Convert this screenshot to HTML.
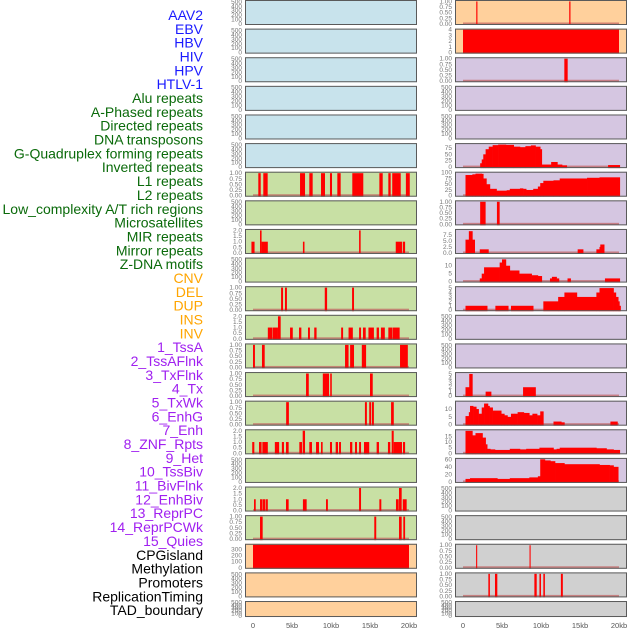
<!DOCTYPE html>
<html><head><meta charset="utf-8"><style>
html,body{margin:0;padding:0;background:#fff;}
svg{display:block;font-family:"Liberation Sans",sans-serif;}
</style></head><body>
<svg id="chart" width="630" height="630" viewBox="0 0 630 630" xmlns="http://www.w3.org/2000/svg"></svg>
<script>
// ---------- data ----------
const trackLabels = ["AAV2","EBV","HBV","HIV","HPV","HTLV-1","Alu repeats","A-Phased repeats","Directed repeats","DNA transposons","G-Quadruplex forming repeats","Inverted repeats","L1 repeats","L2 repeats","Low_complexity A/T rich regions","Microsatellites","MIR repeats","Mirror repeats","Z-DNA motifs","CNV","DEL","DUP","INS","INV","1_TssA","2_TssAFlnk","3_TxFlnk","4_Tx","5_TxWk","6_EnhG","7_Enh","8_ZNF_Rpts","9_Het","10_TssBiv","11_BivFlnk","12_EnhBiv","13_ReprPC","14_ReprPCWk","15_Quies","CPGisland","Methylation","Promoters","ReplicationTiming","TAD_boundary"];
const labelGroups = [6,13,5,15,5];
const xTickValues = [0,5,10,15,20];
const xTickLabels = ["0","5kb","10kb","15kb","20kb"];

const L6 = [[0.68,0.99,1],[1.32,1.88,1],[6.03,6.67,1],[7.22,7.65,1],[8.72,9.23,1],[9.87,10.13,1],[10.81,11.24,1],[12.73,14.14,1],[16.2,16.63,1],[17.35,17.65,1],[17.85,18.94,1],[19.6,20.1,1]];
const L8 = [[-0.2,0.2,1],[0.9,1.1,2],[1.1,1.9,1],[6.4,6.6,1],[13.6,13.8,2],[18.3,19.1,1],[19.2,19.5,1]];
const L10 = [[3.6,3.85,1],[4.1,4.35,1],[9.2,9.5,1],[12.7,12.95,1]];
const L11 = [[1.9,2.45,1],[2.5,3.2,1],[3.2,3.55,2],[4.75,5.1,1],[5.9,6.2,1],[7.05,7.3,1],[7.85,8.15,1],[11.3,11.55,1],[12.25,12.5,1],[12.5,12.8,1],[13.6,13.85,1],[14.1,14.45,1],[14.8,15.5,1],[15.85,16.15,1],[16.4,16.9,1],[17.35,17.85,1],[17.9,18.8,1]];
const L12 = [[0,0.25,1],[1.15,1.5,1],[11.8,12.25,1],[12.45,12.95,1],[13.95,14.5,1],[18.85,19.85,1]];
const L13 = [[6.8,7.15,1],[8.95,9.75,1],[9.9,10.1,1],[15.0,15.35,1]];
const L14 = [[4.25,4.6,1],[14.35,14.6,1],[14.9,15.15,1],[15.25,15.5,1],[17.7,18.05,1]];
const L15 = [[-0.1,0.17,1],[0.77,1.1,1],[1.2,1.9,1],[2.8,3.35,1],[3.7,3.97,1],[4.23,4.57,1],[5.94,6.28,1],[6.37,6.67,2],[7.22,7.56,1],[8.08,8.46,1],[8.72,8.93,1],[9.87,10.13,1],[10.6,10.9,1],[11.03,11.28,1],[12.44,12.73,1],[13.08,13.33,1],[13.6,13.85,1],[14.23,14.9,1],[15.85,16.15,1],[17.3,17.6,1],[17.78,18.04,2],[18.04,19.1,1],[19.23,19.5,1]];
const L17 = [[0.13,0.35,1],[0.9,1.2,1],[1.25,1.6,1],[1.67,1.9,1],[4.23,4.57,1],[6.4,6.88,1],[9.36,9.6,1],[13.6,13.85,2],[16.2,16.45,1],[18.33,18.68,1],[18.72,19.06,2],[19.2,19.7,1]];
const L18 = [[0.9,1.24,1],[15.55,15.8,1],[18.72,19.06,1],[19.27,19.5,1]];
const L19 = [[0,20,380]];

const R0 = [[1.7,1.85,1],[13.62,13.78,1]];
const R1 = [[0,20,4]];
const R2 = [[12.99,13.42,1]];
const R7 = [[2.2,2.9,1],[4.35,4.7,1]];
const R19 = [[1.68,1.82,1],[8.53,8.67,1]];
const R20 = [[3.25,3.45,1],[4.1,4.4,1],[9.15,9.45,1],[9.8,10.0,1],[10.3,10.5,1],[12.55,12.8,1]];
const R5 = [[2.2,15],[2.4,30],[2.6,50],[2.9,70],[3.3,80],[3.8,86],[4.5,88],[5.5,87],[6.5,80],[7.3,78],[8,82],[8.7,85],[9.3,80],[9.9,70],[10.1,10],[11.3,20],[12.1,10],[12.7,7],[13.3,0],[18.6,8],[20.1,0]];
const R6 = [[0.32,90],[1.2,93],[1.6,96],[2.4,95],[2.6,75],[3.0,50],[3.45,30],[4.3,22],[5.6,24],[6.0,30],[7.3,32],[7.7,30],[8.1,25],[9.0,30],[9.6,40],[9.9,55],[10.3,65],[11.6,67],[12.4,75],[15.9,78],[17.5,80],[20.1,0]];
const R8 = [[0.32,5.5],[0.75,9],[1.2,5.5],[1.5,0],[2.15,1.5],[3.26,0],[14.7,1.5],[15.4,0],[17.1,1.5],[17.5,2.5],[17.6,3.5],[18.1,0]];
const R9 = [[2.15,2],[2.4,5],[2.7,9],[4.7,12],[5.0,14],[5.5,10],[6.0,7],[7.2,5],[8.8,4],[9.6,3.5],[10.1,0],[11.15,2],[11.4,3],[12.0,2],[12.3,0],[13.4,2],[13.8,0],[18.2,2],[20.1,0]];
const R10 = [[0.32,1],[3.1,0],[4.15,1],[5.8,0],[6.15,1],[9.0,0],[10.3,2],[12.2,3],[13.0,4],[14.6,3],[17.1,4],[17.5,5],[19.3,4],[19.6,3],[19.9,2],[20.05,1],[20.2,0]];
const R13 = [[0.32,2],[0.8,5],[1.2,0],[2.9,1],[3.6,0],[7.7,2],[9.3,0]];
const R14 = [[0.32,5.5],[0.75,8],[0.9,12],[1.3,11.5],[1.7,10],[2.0,7],[2.4,11],[2.7,13.5],[3.2,12],[3.4,11],[3.8,9],[4.9,7],[5.3,6],[5.7,5],[6.15,7],[6.6,7],[7.0,8],[7.8,7.5],[8.5,6],[8.9,7],[9.5,6],[9.9,8.5],[10.3,0],[11.6,2],[12.6,1.5],[13.0,0],[18.9,2],[19.8,0]];
const R15 = [[0.32,20],[1.2,16],[1.6,18],[2.5,14],[2.9,8],[3.1,4],[3.5,3.5],[4.1,3],[6.0,4],[7.3,3.5],[8.1,4],[9.8,5],[11.6,3.5],[12.0,4],[12.4,5],[17.1,4.5],[18.4,3.5],[19.3,3],[20.1,0]];
const R16 = [[0.32,8],[0.9,10],[4.4,8],[6.0,10],[8.5,12],[9.6,15],[9.9,60],[10.5,57],[11.2,55],[11.8,50],[13.0,47],[17.5,45],[18.8,44],[19.3,40],[19.9,0]];

const svg = document.getElementById('chart');
const NS = 'http://www.w3.org/2000/svg';
function mk(tag, attrs, parent){const e=document.createElementNS(NS,tag);for(const k in attrs)e.setAttribute(k,attrs[k]);(parent||svg).appendChild(e);return e;}
const BLUE='#c8e3ec', GREEN='#c8e0a4', ORANGE='#ffd09c', PURPLE='#d5c6e1', GRAY='#d0d0d0';
const ticks500=[0,100,200,300,400,500], tBin=[0,0.25,0.5,0.75,1], t2=[0,0.5,1,1.5,2];
function E(bg){return {bg:bg,type:'empty',ymax:520,ticks:ticks500,fmt:v=>String(v)};}
function B(bg,d){return {bg:bg,type:'seg',data:d,ymax:1.02,ticks:tBin,fmt:v=>v.toFixed(2),base:true};}
function B2(bg,d){return {bg:bg,type:'seg',data:d,ymax:2.04,ticks:t2,fmt:v=>v.toFixed(1),base:true};}
function S(bg,d,ymax,ticks,fmt){return {bg:bg,type:'step',data:d,ymax:ymax,ticks:ticks,fmt:fmt||(v=>String(v)),base:true};}
const left=[E(BLUE),E(BLUE),E(BLUE),E(BLUE),E(BLUE),E(BLUE),
 B(GREEN,L6),E(GREEN),B2(GREEN,L8),E(GREEN),B(GREEN,L10),B2(GREEN,L11),B(GREEN,L12),B(GREEN,L13),B(GREEN,L14),B2(GREEN,L15),E(GREEN),B2(GREEN,L17),B(GREEN,L18),
 {bg:ORANGE,type:'seg',data:L19,ymax:380,ticks:[0,100,200,300],fmt:v=>String(v)},E(ORANGE),E(ORANGE)];
const right=[B(ORANGE,R0),{bg:ORANGE,type:'seg',data:R1,ymax:4,ticks:[0,1,2,3,4],fmt:v=>String(v)},B(PURPLE,R2),E(PURPLE),E(PURPLE),
 S(PURPLE,R5,90,[0,25,50,75]),S(PURPLE,R6,100,[0,25,50,75,100]),B(PURPLE,R7),S(PURPLE,R8,9.5,[0,2.5,5,7.5],v=>v.toFixed(1)),
 S(PURPLE,R9,14.5,[0,5,10]),S(PURPLE,R10,5.2,[0,1,2,3,4,5]),E(PURPLE),E(PURPLE),S(PURPLE,R13,5.2,[0,1,2,3,4,5]),
 S(PURPLE,R14,14.7,[0,5,10]),S(PURPLE,R15,20.5,[0,5,10,15]),S(PURPLE,R16,61,[0,20,40,60]),
 E(GRAY),E(GRAY),B(GRAY,R19),B(GRAY,R20),E(GRAY)];

function drawColumn(col, px0, px1, x0, name){
  const g=mk('g',{});
  
  
  const xs = kb => x0 + kb*7.8;
  col.forEach((p,i)=>{
    const top = i*28.62, h = (i===21)?16:25, bot = top+h;
    const pg = mk('g',{},g);
    
    
    mk('rect',{x:px0,y:top,width:px1-px0,height:h,fill:p.bg},pg);
    const ys = v => bot-1 - v/p.ymax*(h-2);
    p.ticks.forEach(t=>{
      const tx=mk('text',{x:px0-3,y:ys(t)+2,'font-size':6.5,fill:'#777','text-anchor':'end'},pg);
      tx.textContent=p.fmt(t);
    });
    if(p.base){
      const bl=mk('rect',{x:xs(0),y:ys(0)-1.5,width:xs(20)-xs(0),height:2,fill:'#c06060',opacity:0.7},pg);
      
      
    }
    if(p.type==='seg'){
      p.data.forEach(s=>{
        const r=mk('rect',{x:xs(s[0]),y:ys(s[2]),width:Math.max(1,xs(s[1])-xs(s[0])),height:ys(0)-ys(s[2])+1,fill:'#ff0000'},pg);
        
        
      });
    } else if(p.type==='step'){
      for(let k=0;k<p.data.length-1;k++){
        const s=p.data[k], e=p.data[k+1];
        if(s[1]<=0) continue;
        const r=mk('rect',{x:xs(s[0]),y:ys(s[1]),width:xs(e[0])-xs(s[0])+0.3,height:ys(0)-ys(s[1])+1,fill:'#ff0000'},pg);
        
        
      }
    }
    mk('rect',{x:px0+0.5,y:top+0.5,width:px1-px0-1,height:h-1,fill:'none',stroke:'#5a5a5a','stroke-width':1},pg);
  });
  xTickValues.forEach((v,k)=>{
    const t=mk('text',{x:xs(v),y:628,'font-size':7.5,fill:'#555','text-anchor':'middle'},g);
    t.textContent=xTickLabels[k];
    
    
  });
}
drawColumn(left,245,417,253,'left-panel-column');
drawColumn(right,455,627,463,'right-panel-column');

const colors=['#1a1aff','#0a6a0a','#ffa500','#a020f0','#000000'];
let gi=0, cnt=0;
trackLabels.forEach((lab,i)=>{
  while(cnt>=labelGroups[gi]){gi++;cnt=0;}
  cnt++;
  const t=mk('text',{x:203,y:15+i*13.84+5,'font-size':14,fill:colors[gi],'text-anchor':'end'});
  t.textContent=lab;
  
  
});
</script>
</body></html>
